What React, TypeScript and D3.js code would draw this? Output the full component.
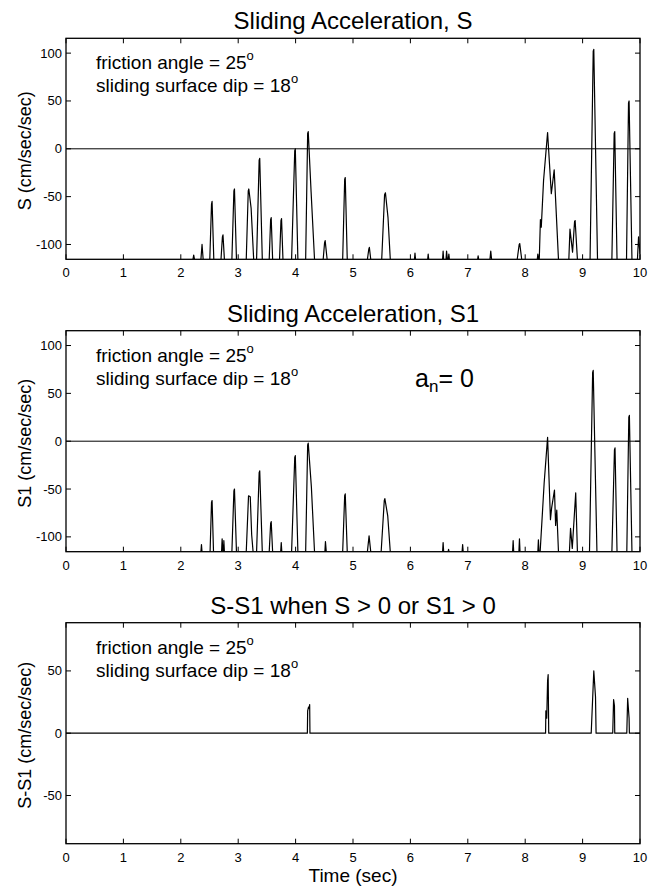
import React from 'react';
import * as d3 from 'd3';

const TIME_TICKS = [0, 1, 2, 3, 4, 5, 6, 7, 8, 9, 10];
const S_TICKS = [-100, -50, 0, 50, 100];
const DIFF_TICKS = [-50, 0, 50];
const S_DOMAIN: [number, number] = [-115.5, 115.5];
const DIFF_DOMAIN: [number, number] = [-88.7, 88.7];
const TIME_DOMAIN: [number, number] = [0, 10];

const TITLES = ['Sliding Acceleration, S', 'Sliding Acceleration, S1', 'S-S1 when S > 0 or S1 > 0'];
const YLABELS = ['S (cm/sec/sec)', 'S1 (cm/sec/sec)', 'S-S1 (cm/sec/sec)'];
const NOTE1 = 'friction angle = 25';
const NOTE2 = 'sliding surface dip = 18';
const XLABEL = 'Time (sec)';

// S (cm/sec/sec) vs time (sec); -116 = below visible range
const S_POINTS: [number, number][] = [
  [0, -116], [2.21, -116], [2.225, -111], [2.24, -116],
  [2.35, -116], [2.37, -100], [2.39, -116],
  [2.505, -116], [2.535, -58], [2.545, -55], [2.575, -116],
  [2.7, -116], [2.725, -92], [2.735, -90], [2.76, -116],
  [2.89, -116], [2.925, -44], [2.935, -42], [2.97, -116],
  [3.14, -116], [3.175, -44], [3.185, -42], [3.225, -62], [3.27, -116],
  [3.32, -116], [3.365, -12], [3.375, -10], [3.42, -116],
  [3.54, -116], [3.565, -74], [3.575, -72], [3.6, -116],
  [3.72, -116], [3.745, -75], [3.755, -73], [3.78, -116],
  [3.93, -116], [3.985, -2], [3.995, 0], [4.04, -116],
  [4.175, -116], [4.21, 16], [4.22, 18], [4.27, -45], [4.33, -116],
  [4.48, -116], [4.505, -98], [4.515, -96], [4.55, -116],
  [4.82, -116], [4.855, -32], [4.865, -30], [4.9, -116],
  [5.25, -116], [5.275, -105], [5.285, -103], [5.31, -116],
  [5.5, -116], [5.55, -48], [5.565, -46], [5.61, -72], [5.65, -116],
  [6.07, -116], [6.08, -109], [6.09, -116],
  [6.3, -116], [6.31, -110], [6.32, -116],
  [6.56, -116], [6.57, -107], [6.58, -116],
  [6.62, -116], [6.63, -107], [6.645, -116],
  [6.66, -116], [6.67, -110], [6.68, -116],
  [7.17, -116], [7.18, -112], [7.19, -116],
  [7.385, -116], [7.4, -107], [7.415, -116],
  [7.86, -116], [7.895, -100], [7.905, -99], [7.94, -116],
  [8.21, -116], [8.22, -110], [8.235, -116],
  [8.245, -116], [8.265, -74], [8.28, -82], [8.32, -33], [8.39, 17], [8.455, -47], [8.505, -22], [8.58, -116],
  [8.76, -116], [8.78, -84], [8.825, -108], [8.86, -76], [8.87, -75], [8.91, -116],
  [9.13, -116], [9.185, 102], [9.195, 104], [9.26, -116],
  [9.51, -116], [9.55, 16], [9.56, 18], [9.6, -116],
  [9.765, -116], [9.8, 48], [9.81, 50], [9.86, -116],
  [9.955, -116], [9.975, -92], [10, -110],
];

// S1 (cm/sec/sec) vs time (sec), a_n = 0
const S1_POINTS: [number, number][] = [
  [0, -116],
  [2.35, -116], [2.36, -108], [2.37, -116],
  [2.51, -116], [2.535, -64], [2.545, -62], [2.57, -116],
  [2.71, -116], [2.72, -102], [2.735, -116], [2.745, -116], [2.75, -104], [2.76, -116],
  [2.89, -116], [2.925, -52], [2.935, -50], [2.97, -116],
  [3.14, -116], [3.18, -57], [3.21, -58], [3.235, -98], [3.26, -116],
  [3.32, -116], [3.365, -33], [3.375, -31], [3.42, -116],
  [3.54, -116], [3.565, -86], [3.575, -84], [3.6, -116],
  [3.74, -116], [3.75, -106], [3.76, -116],
  [3.93, -116], [3.985, -17], [3.995, -15], [4.04, -116],
  [4.175, -116], [4.21, -4], [4.22, -2], [4.275, -48], [4.33, -116],
  [4.51, -116], [4.52, -105], [4.535, -116],
  [4.82, -116], [4.855, -57], [4.865, -55], [4.9, -116],
  [5.25, -116], [5.28, -99], [5.31, -116],
  [5.49, -116], [5.545, -62], [5.555, -60], [5.605, -78], [5.65, -116],
  [6.56, -116], [6.57, -106], [6.58, -116],
  [6.655, -116], [6.665, -113], [6.675, -116],
  [6.9, -116], [6.91, -108], [6.92, -116],
  [7.78, -116], [7.79, -104], [7.8, -116],
  [7.89, -116], [7.9, -102], [7.91, -116],
  [8.22, -116], [8.23, -103], [8.24, -116],
  [8.26, -116], [8.33, -44], [8.36, -20], [8.39, 4], [8.44, -82], [8.46, -70], [8.51, -51], [8.53, -88], [8.55, -72], [8.58, -116],
  [8.77, -116], [8.79, -91], [8.82, -112], [8.88, -54], [8.91, -116],
  [9.12, -116], [9.175, 72], [9.185, 74], [9.25, -116],
  [9.51, -116], [9.555, -9], [9.565, -7], [9.6, -116],
  [9.77, -116], [9.805, 25], [9.815, 27], [9.86, -116],
  [10, -116],
];

// S - S1 (cm/sec/sec) vs time (sec)
const DIFF_POINTS: [number, number][] = [
  [0, 0], [4.205, 0], [4.21, 18], [4.225, 21], [4.235, 20], [4.245, 23], [4.25, 0],
  [8.355, 0], [8.36, 18], [8.375, 12], [8.39, 42], [8.4, 47], [8.41, 0],
  [9.15, 0], [9.195, 50], [9.225, 29], [9.235, 0],
  [9.525, 0], [9.54, 27], [9.555, 22], [9.56, 0],
  [9.77, 0], [9.785, 28], [9.81, 12], [9.815, 0],
  [10, 0],
];

const FONT = '"Liberation Sans", Arial, Helvetica, sans-serif';
const LEFT = 66;
const RIGHT = 640;
const PANEL_H = 221;
const TOPS = [38.3, 330.7, 622.7];

type PanelProps = {
  idx: number;
  top: number;
  domain: [number, number];
  yTicks: number[];
  data: [number, number][];
  zeroLine: boolean;
  showAn?: boolean;
  showXLabel?: boolean;
};

function Panel({ idx, top, domain, yTicks, data, zeroLine, showAn, showXLabel }: PanelProps) {
  const bottom = top + PANEL_H;
  const x = d3.scaleLinear().domain(TIME_DOMAIN).range([LEFT, RIGHT]);
  const y = d3.scaleLinear().domain(domain).range([bottom, top]);
  const line = d3
    .line<[number, number]>()
    .x((d) => x(d[0]))
    .y((d) => y(d[1]))
    .curve(d3.curveLinear);
  const clipId = `clip${idx}`;
  const midX = (LEFT + RIGHT) / 2;
  const midY = (top + bottom) / 2;
  const tl = 5;
  return (
    <g>
      <defs>
        <clipPath id={clipId}>
          <rect x={LEFT} y={top} width={RIGHT - LEFT} height={PANEL_H} />
        </clipPath>
      </defs>
      <text x={midX} y={top - 9} textAnchor="middle" fontSize={24} fontFamily={FONT} fill="#000">
        {TITLES[idx]}
      </text>
      {zeroLine && (
        <line x1={LEFT} x2={RIGHT} y1={y(0)} y2={y(0)} stroke="#000" strokeWidth={1} />
      )}
      <path d={line(data) || ''} fill="none" stroke="#000" strokeWidth={1.2} clipPath={`url(#${clipId})`} strokeLinejoin="round" />
      <rect x={LEFT} y={top} width={RIGHT - LEFT} height={PANEL_H} fill="none" stroke="#000" strokeWidth={1.3} />
      {TIME_TICKS.map((t) => (
        <g key={`xt${t}`}>
          <line x1={x(t)} x2={x(t)} y1={bottom} y2={bottom - tl} stroke="#000" strokeWidth={1} />
          <line x1={x(t)} x2={x(t)} y1={top} y2={top + tl} stroke="#000" strokeWidth={1} />
          <text x={x(t)} y={bottom + 18} textAnchor="middle" fontSize={13} fontFamily={FONT} fill="#000">
            {t}
          </text>
        </g>
      ))}
      {yTicks.map((v) => (
        <g key={`yt${v}`}>
          <line x1={LEFT} x2={LEFT + tl} y1={y(v)} y2={y(v)} stroke="#000" strokeWidth={1} />
          <line x1={RIGHT} x2={RIGHT - tl} y1={y(v)} y2={y(v)} stroke="#000" strokeWidth={1} />
          <text x={LEFT - 4} y={y(v) + 4.5} textAnchor="end" fontSize={13} fontFamily={FONT} fill="#000">
            {v}
          </text>
        </g>
      ))}
      <text
        transform={`translate(25,${midY + 2}) rotate(-90)`}
        textAnchor="middle"
        dy="0.35em"
        fontSize={18}
        fontFamily={FONT}
        fill="#000"
      >
        {YLABELS[idx]}
      </text>
      <text x={96} y={top + 31} fontSize={19} fontFamily={FONT} fill="#000">
        {NOTE1}
        <tspan fontSize={13} dy={-9}>o</tspan>
      </text>
      <text x={96} y={top + 54} fontSize={19} fontFamily={FONT} fill="#000">
        {NOTE2}
        <tspan fontSize={13} dy={-9}>o</tspan>
      </text>
      {showAn && (
        <text x={415} y={387} fontSize={25} fontFamily={FONT} fill="#000">
          a
          <tspan fontSize={17} dy={5}>n</tspan>
          <tspan dy={-5}>= 0</tspan>
        </text>
      )}
      {showXLabel && (
        <text x={midX} y={bottom + 38} textAnchor="middle" fontSize={19} fontFamily={FONT} fill="#000">
          {XLABEL}
        </text>
      )}
    </g>
  );
}

export default function App() {
  return (
    <svg
      width={655}
      height={888}
      viewBox="0 0 655 888"
      style={{ position: 'absolute', left: 0, top: 0, background: '#fff' }}
    >
      <rect x={0} y={0} width={655} height={888} fill="#fff" />
      <Panel idx={0} top={TOPS[0]} domain={S_DOMAIN} yTicks={S_TICKS} data={S_POINTS} zeroLine />
      <Panel idx={1} top={TOPS[1]} domain={S_DOMAIN} yTicks={S_TICKS} data={S1_POINTS} zeroLine showAn />
      <Panel idx={2} top={TOPS[2]} domain={DIFF_DOMAIN} yTicks={DIFF_TICKS} data={DIFF_POINTS} zeroLine={false} showXLabel />
    </svg>
  );
}
